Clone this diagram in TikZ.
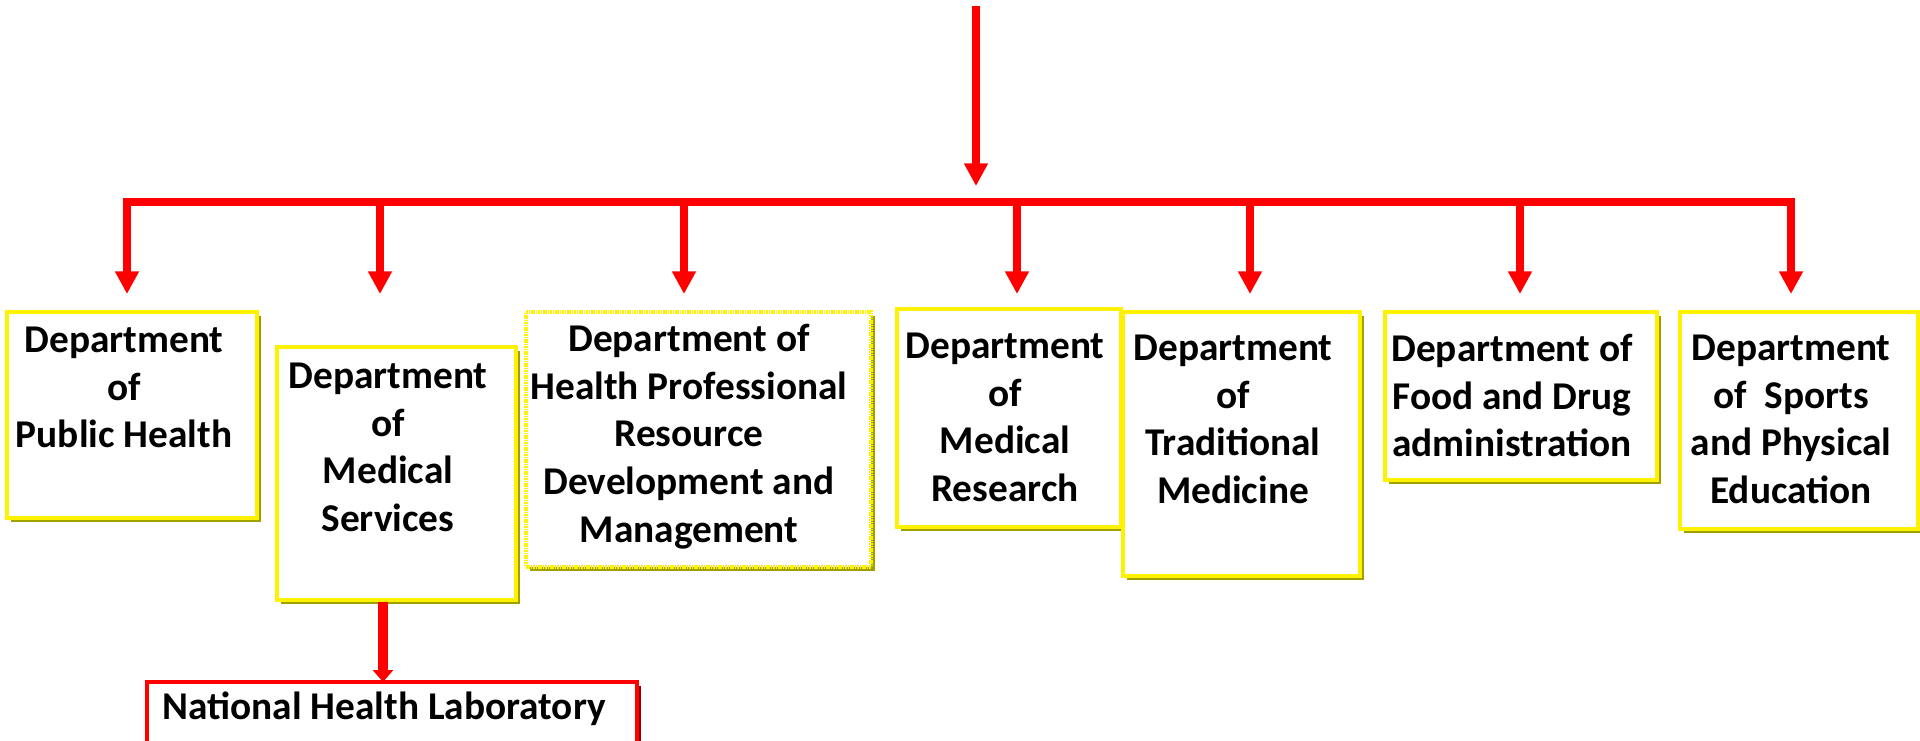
\documentclass[tikz,border=0pt]{standalone}
\usepackage{fontspec}
\setmainfont{Carlito}
\usetikzlibrary{arrows.meta,fit,shadows}
\definecolor{shade}{RGB}{160,160,0}
\definecolor{darkred}{RGB}{140,0,0}

\begin{document}
\begin{tikzpicture}[x=0.75pt,y=-0.75pt,
    dept/.style={draw=yellow,line width=2.4pt,fill=white,inner sep=0pt,
      drop shadow={shadow xshift=3pt,shadow yshift=-3pt,fill=shade,opacity=1}},
    lab/.style={draw=red,line width=2.4pt,fill=white,inner sep=0pt,
      drop shadow={shadow xshift=3pt,shadow yshift=-3pt,fill=darkred,opacity=1}},
    txt/.style={anchor=north,align=center,inner sep=0pt,
      font=\bfseries\fontsize{29.5}{35.7}\selectfont},
    drop/.style={draw=red,line width=5.5pt,-{Triangle[width=17pt,length=17pt]}},
    feed/.style={draw=red,line width=7.5pt,-{Triangle[width=15pt,length=9pt]}}]
  \useasboundingbox (0,0) rectangle (1920,740);
  \clip (0,0) rectangle (1920,740);
  %riquadri
  \node[dept,fit={(7,312) (257,518)}] (ph) {};
  \node[dept,fit={(277,347) (516,600)}] (ms) {};
  \node[dept,dash pattern=on 1.2pt off 0.6pt,fit={(526,312) (871,567)}] (hp) {};
  \node[dept,fit={(897,309) (1121,527)}] (mr) {};
  \node[dept,fit={(1123,312) (1360,576)}] (tm) {};
  \node[dept,fit={(1385,312) (1657,480)}] (fd) {};
  \node[dept,fit={(1680,312) (1918,529)}] (sp) {};
  \node[lab,fit={(147,682) (637,770)}] (nhl) {};
  %testi
  \node[txt] (ph-t) at (124,327) {Department\\of\\Public Health};
  \node[txt] (ms-t) at (388,363) {Department\\of\\Medical\\Services};
  \node[txt] (hp-t) at (689,324) {Department of\\Health Professional\\Resource\\Development and\\Management};
  \node[txt] (mr-t) at (1005,333) {Department\\of\\Medical\\Research};
  \node[txt] (tm-t) at (1233,335) {Department\\of\\Traditional\\Medicine};
  \node[txt] (fd-t) at (1512,334) {Department of\\Food and Drug\\administration};
  \node[txt] (sp-t) at (1791,335) {Department\\of\ \ Sports\\and Physical\\Education};
  \node[txt,anchor=center] (nhl-t) at (384,709) {National Health Laboratory};
  %frecce
  \coordinate (top) at (976,6);
  \coordinate (top-in) at (976,186);
  \coordinate (bar) at (976,202);
  \draw[drop] (top) -- (top-in);
  \foreach \n/\x in {ph/127,ms/380,hp/684,mr/1017,tm/1250,fd/1520,sp/1791}{
    \coordinate (\n-in) at (\x,294);
    \draw[drop] (\n-in |- bar) -- (\n-in);
  }
  \draw[red,line width=5.5pt,line cap=rect] (ph-in |- bar) -- (sp-in |- bar);
  \coordinate (nhl-in) at (383,682);
  \draw[feed] (nhl-in |- ms.south) -- (nhl-in);
\end{tikzpicture}
\end{document}
